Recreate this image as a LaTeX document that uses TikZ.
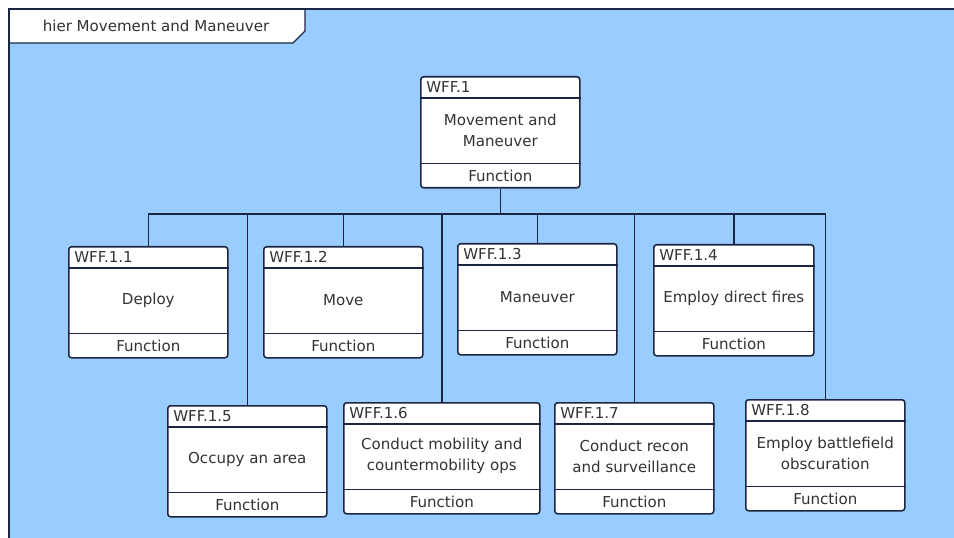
\documentclass[tikz,border=0pt]{standalone}
\usepackage{fontspec}
\setmainfont{DejaVu Sans}
\usetikzlibrary{calc}
\definecolor{diagbg}{HTML}{99CCFF}
\definecolor{edge}{HTML}{1C2541}
\definecolor{ink}{HTML}{333333}
\tikzset{
	wffbox/.style={draw=edge, fill=white, rounded corners=2pt, line width=1.1pt, minimum height=111*0.025cm, inner sep=0pt, anchor=north west},
	wfftext/.style={text=ink, font=\fontsize{10.7}{15}\selectfont, align=center, inner sep=0pt},
	wffline/.style={draw=edge, line width=1.1pt},
}
% name, left, top, width, id, text
\def\wff#1#2#3#4#5#6{%
	\node[wffbox, minimum width=#4*0.025cm] (#1) at (#2,#3) {};
	\draw[wffline] ($(#1.north west)+(0,22)$) -- ($(#1.north east)+(0,22)$);
	\draw[wffline] ($(#1.south west)+(0,-25)$) -- ($(#1.south east)+(0,-25)$);
	\node[wfftext, anchor=west] (#1-id) at ($(#1.north west)+(6,11)$) {#5};
	\node[wfftext] (#1-txt) at ($(#1.north)+(0,54)$) {#6};
	\node[wfftext] (#1-fn) at ($(#1.south)+(0,-12.5)$) {Function};
}

\begin{document}
\begin{tikzpicture}[x=0.025cm, y=-0.025cm]
		%%%%% START %%%%%
		\useasboundingbox (0,0) rectangle (954,538);
		\fill[diagbg] (9,9) rectangle (954,538);
		
		\draw[fill=white, draw=edge, line width=0.8pt] (9,9) -- (305,9) -- (305,31) -- (293,43) -- (9,43) -- cycle;
		\node[wfftext] (title) at (156,26) {hier Movement and Maneuver};
		\draw[edge, line width=2pt] (9,538) -- (9,9) -- (954,9);
		
		\wff{top}{420}{76}{159}{WFF.1}{Movement and\\Maneuver}
		
		\wff{c11}{68}{246}{159}{WFF.1.1}{Deploy}
		\wff{c12}{263}{246}{159}{WFF.1.2}{Move}
		\wff{c13}{457}{243}{159}{WFF.1.3}{Maneuver}
		\wff{c14}{653}{244}{160}{WFF.1.4}{Employ direct fires}
		
		\wff{c15}{167}{405}{159}{WFF.1.5}{Occupy an area}
		\wff{c16}{343}{402}{196}{WFF.1.6}{Conduct mobility and\\countermobility ops}
		\wff{c17}{554}{402}{159}{WFF.1.7}{Conduct recon\\and surveillance}
		\wff{c18}{745}{399}{159}{WFF.1.8}{Employ battlefield\\obscuration}
		
		\coordinate (bus) at (0,214);
		\foreach \c in {c11,c15,c12,c16,c13,c17,c14,c18}
			\draw[wffline] (top.south) -- (top.south |- bus) -| (\c.north);
		%%%%% END %%%%%
\end{tikzpicture}
\end{document}
